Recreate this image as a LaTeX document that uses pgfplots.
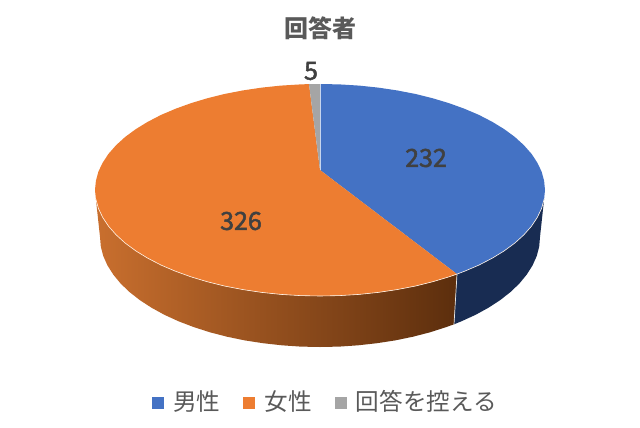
\documentclass[border=0pt]{standalone}
\usepackage{pgfplots}
\usepackage{fontspec}
\pgfplotsset{compat=1.18}
\setmainfont{Noto Sans CJK JP}
\newfontfamily\labfont[FakeBold=2]{Noto Sans CJK JP}
\definecolor{pieblue}{HTML}{4472C4}
\definecolor{pieorange}{HTML}{ED7D31}
\definecolor{piegray}{HTML}{A5A5A5}
\definecolor{sideblue}{HTML}{182C52}
\definecolor{sideleft}{HTML}{C96F2E}
\definecolor{sideright}{HTML}{5C2E0D}
\definecolor{txt}{HTML}{595959}
\definecolor{lab}{HTML}{404040}
\begin{document}
\begin{tikzpicture}
\begin{axis}[
    scale only axis,
    width=640bp,
    height=427bp,
    xmin=0, xmax=640,
    ymin=0, ymax=427,
    y dir=reverse, % pixel coordinates
    hide axis,
    clip=false,
    legend columns=3,
    legend cell align=left,
    legend image code/.code={\path[#1] (0bp,-7.5bp) rectangle (12bp,4.5bp);},
    legend style={
        at={(axis cs:325.4,401)}, anchor=center,
        draw=none, fill=none, inner sep=0pt, text=txt,
        font=\fontsize{23.6bp}{25bp}\selectfont,
        /tikz/every even column/.append style={column sep=21.2bp},
        /tikz/every odd column/.append style={column sep=7bp},
    },
]
% keep the page at the full picture size
\path (axis cs:0,0) rectangle (axis cs:640,427);
% blue side
\addplot[forget plot, draw=none, fill=sideblue] coordinates {
    (457,274.1) (464.6,271.2) (479.1,265) (492.4,258.1) (504.3,250.8) (514.9,243)
    (523.9,234.8) (531.4,226.3) (537.3,217.4) (541.6,208.4) (544.1,199.2)
    (540,237) (539.2,246.6) (536.7,256.1) (532.5,265.5) (526.7,274.6) (519.4,283.5)
    (510.5,292) (500.2,300.1) (488.5,307.7) (475.6,314.8) (461.4,321.3) (454,324.3)
    (457,274.1)
};
% orange side
\addplot[forget plot, draw=none, left color=sideleft, right color=sideright] coordinates {
    (457,274.1) (449.1,276.8) (432.5,281.8) (415.1,286.1) (397,289.6) (378.2,292.4)
    (359.1,294.4) (339.6,295.6) (320,296) (300.4,295.6) (280.9,294.4) (261.8,292.4)
    (243,289.6) (224.9,286.1) (207.5,281.8) (190.9,276.8) (175.4,271.2) (160.9,265)
    (147.6,258.1) (135.7,250.8) (125.1,243) (116.1,234.8) (108.6,226.3) (102.7,217.4)
    (98.4,208.4) (95.9,199.2)
    (100,237) (100.8,246.6) (103.3,256.1) (107.5,265.5) (113.3,274.6) (120.6,283.5)
    (129.5,292) (139.8,300.1) (151.5,307.7) (164.4,314.8) (178.6,321.3) (193.8,327.1)
    (210,332.3) (227,336.7) (244.8,340.4) (263.1,343.2) (281.8,345.3) (300.8,346.6)
    (320,347) (339.2,346.6) (358.2,345.3) (376.9,343.2) (395.2,340.4) (413,336.7)
    (430,332.3) (446.2,327.1) (454,324.3)
    (457,274.1)
};
% top, blue
\addplot[draw=none, fill=pieblue] coordinates {
    (320,170) (320,84) (339.6,84.4) (359.1,85.6) (378.2,87.6) (397,90.4) (415.1,93.9)
    (432.5,98.2) (449.1,103.2) (464.6,108.8) (479.1,115) (492.4,121.9) (504.3,129.2)
    (514.9,137) (523.9,145.2) (531.4,153.7) (537.3,162.6) (541.6,171.6) (544.1,180.8)
    (545,190) (544.1,199.2) (541.6,208.4) (537.3,217.4) (531.4,226.3) (523.9,234.8)
    (514.9,243) (504.3,250.8) (492.4,258.1) (479.1,265) (464.6,271.2) (457,274.1)
    (320,170)
};
\addlegendentry{男性}
% top, orange
\addplot[draw=none, fill=pieorange] coordinates {
    (320,170) (457,274.1) (449.1,276.8) (432.5,281.8) (415.1,286.1) (397,289.6) (378.2,292.4)
    (359.1,294.4) (339.6,295.6) (320,296) (300.4,295.6) (280.9,294.4) (261.8,292.4)
    (243,289.6) (224.9,286.1) (207.5,281.8) (190.9,276.8) (175.4,271.2) (160.9,265)
    (147.6,258.1) (135.7,250.8) (125.1,243) (116.1,234.8) (108.6,226.3) (102.7,217.4)
    (98.4,208.4) (95.9,199.2) (95,190) (95.9,180.8) (98.4,171.6) (102.7,162.6)
    (108.6,153.7) (116.1,145.2) (125.1,137) (135.7,129.2) (147.6,121.9) (160.9,115)
    (175.4,108.8) (190.9,103.2) (207.5,98.2) (224.9,93.9) (243,90.4) (261.8,87.6)
    (280.9,85.6) (300.4,84.4) (309,84.1)
    (320,170)
};
\addlegendentry{女性}
% top, gray
\addplot[draw=none, fill=piegray] coordinates {
    (320,170) (309,84.1) (320,84) (320,170)
};
\addlegendentry{回答を控える}
% thin light edges
\addplot[forget plot, white!90!orange, line width=0.6bp] coordinates {
    (544.1,199.2) (541.6,208.4) (537.3,217.4) (531.4,226.3) (523.9,234.8)
    (514.9,243) (504.3,250.8) (492.4,258.1) (479.1,265) (464.6,271.2) (457,274.1)
    (449.1,276.8) (432.5,281.8) (415.1,286.1) (397,289.6) (378.2,292.4)
    (359.1,294.4) (339.6,295.6) (320,296) (300.4,295.6) (280.9,294.4) (261.8,292.4)
    (243,289.6) (224.9,286.1) (207.5,281.8) (190.9,276.8) (175.4,271.2) (160.9,265)
    (147.6,258.1) (135.7,250.8) (125.1,243) (116.1,234.8) (108.6,226.3) (102.7,217.4)
    (98.4,208.4) (95.9,199.2)
};
\addplot[forget plot, white!80!gray, line width=0.7bp] coordinates {(457,274.1) (454,324.3)};
\addplot[forget plot, white!70!pieblue, line width=0.5bp] coordinates {(320,84) (320,170)};
% labels
\node[text=txt, font=\fontsize{24bp}{26bp}\selectfont\bfseries] at (axis cs:320,28) {回答者};
\node[text=lab, font=\labfont\fontsize{25bp}{27bp}\selectfont] at (axis cs:426,158) {232};
\node[text=lab, font=\labfont\fontsize{25bp}{27bp}\selectfont] at (axis cs:241,221) {326};
\node[text=lab, font=\labfont\fontsize{25bp}{27bp}\selectfont] at (axis cs:311,71) {5};
\end{axis}
\end{tikzpicture}
\end{document}
